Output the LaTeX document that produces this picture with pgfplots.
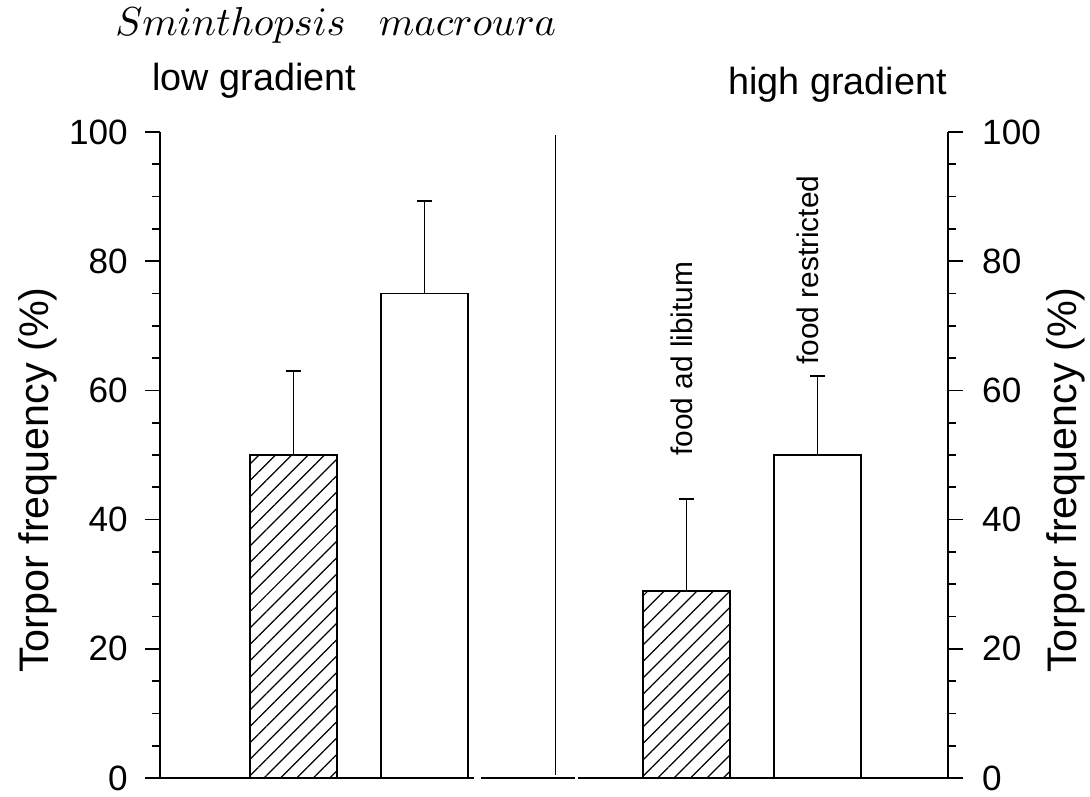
\documentclass[border=0pt]{standalone}
\usepackage{pgfplots}
\pgfplotsset{compat=1.18}
\usepackage{fontspec}
\setmainfont{Liberation Sans}
\usetikzlibrary{patterns.meta}
% scalable math italic for the species name
\DeclareFontShape{OML}{cmm}{m}{it}{<->cmmi10}{}

\begin{document}
\begin{tikzpicture}[x=1cm,y=1cm]
\useasboundingbox (-3.2,-0.36) rectangle (18.6,15.56);
\pgfplotsset{
  torporaxis/.style={
    scale only axis, width=15.76cm, height=12.92cm,
    at={(0,0)}, anchor=south west,
    xmin=-1.02, xmax=4.996, ymin=0, ymax=100,
    ytick={0,20,...,100}, minor y tick num=3,
    tick align=outside,
    major tick length=0.3cm, minor tick length=0.15cm,
    every tick/.style={black, line width=1pt},
    axis line style={line width=1pt},
    /pgf/number format/assume math mode=true,
    hide x axis, clip=false,
  },
  errstyle/.style={
    error bars/.cd, y dir=plus, y explicit,
    error bar style={line width=1pt, black},
    error mark=-,
    error mark options={rotate=90, black, line width=1.2pt, mark size=0.15cm}},
}
% left axis with the bars
\begin{axis}[torporaxis, axis y line*=left, bar width=0.664, bar shift=0pt,
    yticklabel style={font=\fontsize{20}{24}\selectfont, xshift=-0.22cm}]
  % food ad libitum (hatched)
  \addplot[ybar, draw=black, line width=1.1pt,
    pattern={Lines[angle=45, distance=6.6pt, line width=0.7pt]}, errstyle]
    coordinates {(0,50) +- (0,13.0) (3,28.9) +- (0,14.3)};
  % food restricted (open)
  \addplot[ybar, draw=black, fill=white, line width=1.1pt, errstyle]
    coordinates {(1,75) +- (0,14.3) (4,50) +- (0,12.2)};
  % baseline and divider between the two gradients
  \draw[line width=1pt] (axis cs:-1.02,0) -- (axis cs:1.378,0);
  \draw[line width=1pt] (axis cs:1.431,0) -- (axis cs:2.149,0);
  \draw[line width=1pt] (axis cs:2.172,0) -- (axis cs:4.996,0);
  \draw[line width=1pt] (axis cs:2,0.5) -- (axis cs:2,99.5);
  \node[rotate=90, font=\fontsize{17}{20}\selectfont] at (axis cs:2.966,64.9) {food ad libitum};
  \node[rotate=90, font=\fontsize{17}{20}\selectfont] at (axis cs:3.927,78.6) {food restricted};
\end{axis}
% right axis
\begin{axis}[torporaxis, axis y line*=right,
    yticklabel style={font=\fontsize{20}{24}\selectfont, xshift=0.26cm}]
  \addplot[draw=none] coordinates {(0,0)};
\end{axis}
\node[rotate=90, font=\fontsize{23.5}{28}\selectfont] at (-2.44,5.96) {Torpor frequency (\%)};
\node[rotate=90, font=\fontsize{23.5}{28}\selectfont] at (18.12,5.96) {Torpor frequency (\%)};
\node[anchor=base west, inner sep=0] at (-0.9,14.84) {\fontsize{23}{27}\selectfont $Sminthopsis$\hspace{19pt}$macroura$};
\node[anchor=base west, inner sep=0, font=\fontsize{21.5}{26}\selectfont] at (-0.16,13.76) {low gradient};
\node[anchor=base east, inner sep=0, font=\fontsize{21.5}{26}\selectfont] at (15.74,13.68) {high gradient};
\end{tikzpicture}
\end{document}
